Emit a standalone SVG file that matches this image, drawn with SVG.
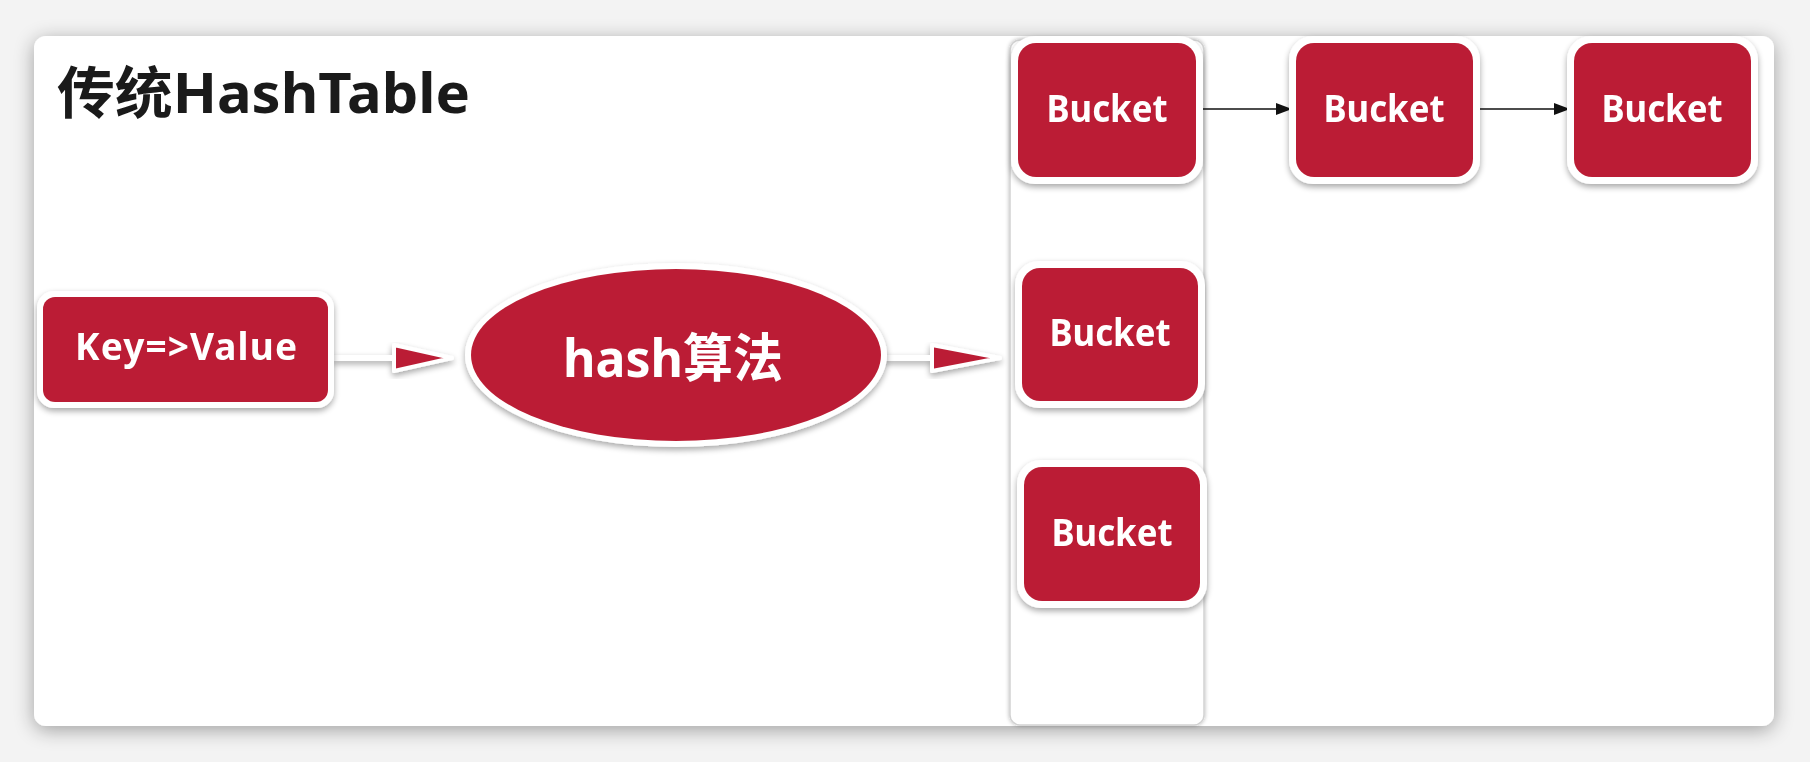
<svg xmlns="http://www.w3.org/2000/svg" width="1810" height="762" viewBox="0 0 1810 762">
<defs>
<filter id="cardShadow" x="-5%" y="-10%" width="110%" height="120%">
<feGaussianBlur in="SourceAlpha" stdDeviation="10"/>
<feOffset dy="4"/>
<feComponentTransfer><feFuncA type="linear" slope="0.35"/></feComponentTransfer>
<feMerge><feMergeNode/><feMergeNode in="SourceGraphic"/></feMerge>
</filter>
<filter id="nodeShadow" x="-20%" y="-20%" width="140%" height="150%">
<feGaussianBlur in="SourceAlpha" stdDeviation="3"/>
<feOffset dy="3"/>
<feComponentTransfer><feFuncA type="linear" slope="0.35"/></feComponentTransfer>
<feMerge><feMergeNode/><feMergeNode in="SourceGraphic"/></feMerge>
</filter>
<filter id="stripShadow" x="-10%" y="-5%" width="120%" height="110%">
<feGaussianBlur in="SourceAlpha" stdDeviation="2"/>
<feComponentTransfer><feFuncA type="linear" slope="0.3"/></feComponentTransfer>
<feMerge><feMergeNode/><feMergeNode in="SourceGraphic"/></feMerge>
</filter>
<marker id="arr" viewBox="0 0 16 12" refX="16" refY="6" markerWidth="16" markerHeight="12" markerUnits="userSpaceOnUse" orient="auto">
<path d="M0,0 L16,6 L0,12 Z" fill="#111"/>
</marker>
<style>
.outer{fill:#ffffff;}
.red{fill:#BB1F35;}
.lbl{fill:#ffffff;font-family:"Noto Sans","Noto Sans CJK SC",sans-serif;font-weight:700;text-anchor:middle;}
.title{fill:#1a1a1a;font-family:"Noto Sans","Noto Sans CJK SC",sans-serif;font-weight:700;}
.thin{stroke:#111;stroke-width:1.6;fill:none;}
.fatline{stroke:#ffffff;stroke-width:6;fill:none;}
.head{fill:#BB1F35;stroke:#ffffff;stroke-width:4;stroke-linejoin:round;}
</style>
</defs>
<rect x="0" y="0" width="1810" height="762" fill="#f3f3f3"/>
<rect x="34" y="36" width="1740" height="690" rx="12" fill="#ffffff" filter="url(#cardShadow)"/>
<text class="title" x="57" y="113" font-size="56" textLength="413" lengthAdjust="spacingAndGlyphs">传统HashTable</text>
<rect x="1010" y="40" width="194" height="685" rx="10" fill="#ffffff" stroke="#d2d2d2" stroke-width="1.5" filter="url(#stripShadow)"/>
<g id="connectors">
<g filter="url(#nodeShadow)">
<line class="fatline" x1="333" y1="358" x2="396" y2="358"/>
<polygon class="head" points="394,345 452,358 394,371"/>
<line class="fatline" x1="884" y1="358" x2="934" y2="358"/>
<polygon class="head" points="932,345 1000,358 932,371"/>
</g>
<line class="thin" x1="1203" y1="109" x2="1292" y2="109" marker-end="url(#arr)"/>
<line class="thin" x1="1479" y1="109" x2="1570" y2="109" marker-end="url(#arr)"/>
</g>
<g id="keyvalue" filter="url(#nodeShadow)">
<rect class="outer" x="37" y="291" width="297" height="117" rx="17"/>
<rect class="red" x="43" y="297" width="285" height="105" rx="12"/>
<text class="lbl" x="186" y="360" font-size="37" textLength="222" lengthAdjust="spacing">Key=&gt;Value</text>
</g>
<g id="hash" filter="url(#nodeShadow)">
<ellipse class="outer" cx="676" cy="355" rx="211" ry="92"/>
<ellipse class="red" cx="676" cy="355" rx="205" ry="86"/>
<text class="lbl" x="673" y="377" font-size="52" textLength="220" lengthAdjust="spacingAndGlyphs">hash算法</text>
</g>
<g id="bucket1" filter="url(#nodeShadow)">
<rect class="outer" x="1011" y="36" width="192" height="148" rx="24"/>
<rect class="red" x="1018" y="43" width="178" height="134" rx="18"/>
<text class="lbl" x="1107" y="122" font-size="37" textLength="121" lengthAdjust="spacingAndGlyphs">Bucket</text>
</g>
<g id="bucket1b" filter="url(#nodeShadow)">
<rect class="outer" x="1289" y="36" width="191" height="148" rx="24"/>
<rect class="red" x="1296" y="43" width="177" height="134" rx="18"/>
<text class="lbl" x="1384" y="122" font-size="37" textLength="121" lengthAdjust="spacingAndGlyphs">Bucket</text>
</g>
<g id="bucket1c" filter="url(#nodeShadow)">
<rect class="outer" x="1567" y="36" width="191" height="148" rx="24"/>
<rect class="red" x="1574" y="43" width="177" height="134" rx="18"/>
<text class="lbl" x="1662" y="122" font-size="37" textLength="121" lengthAdjust="spacingAndGlyphs">Bucket</text>
</g>
<g id="bucket2" filter="url(#nodeShadow)">
<rect class="outer" x="1015" y="261" width="190" height="147" rx="24"/>
<rect class="red" x="1022" y="268" width="176" height="133" rx="18"/>
<text class="lbl" x="1110" y="346" font-size="37" textLength="121" lengthAdjust="spacingAndGlyphs">Bucket</text>
</g>
<g id="bucket3" filter="url(#nodeShadow)">
<rect class="outer" x="1017" y="460" width="190" height="148" rx="24"/>
<rect class="red" x="1024" y="467" width="176" height="134" rx="18"/>
<text class="lbl" x="1112" y="546" font-size="37" textLength="121" lengthAdjust="spacingAndGlyphs">Bucket</text>
</g>
</svg>
